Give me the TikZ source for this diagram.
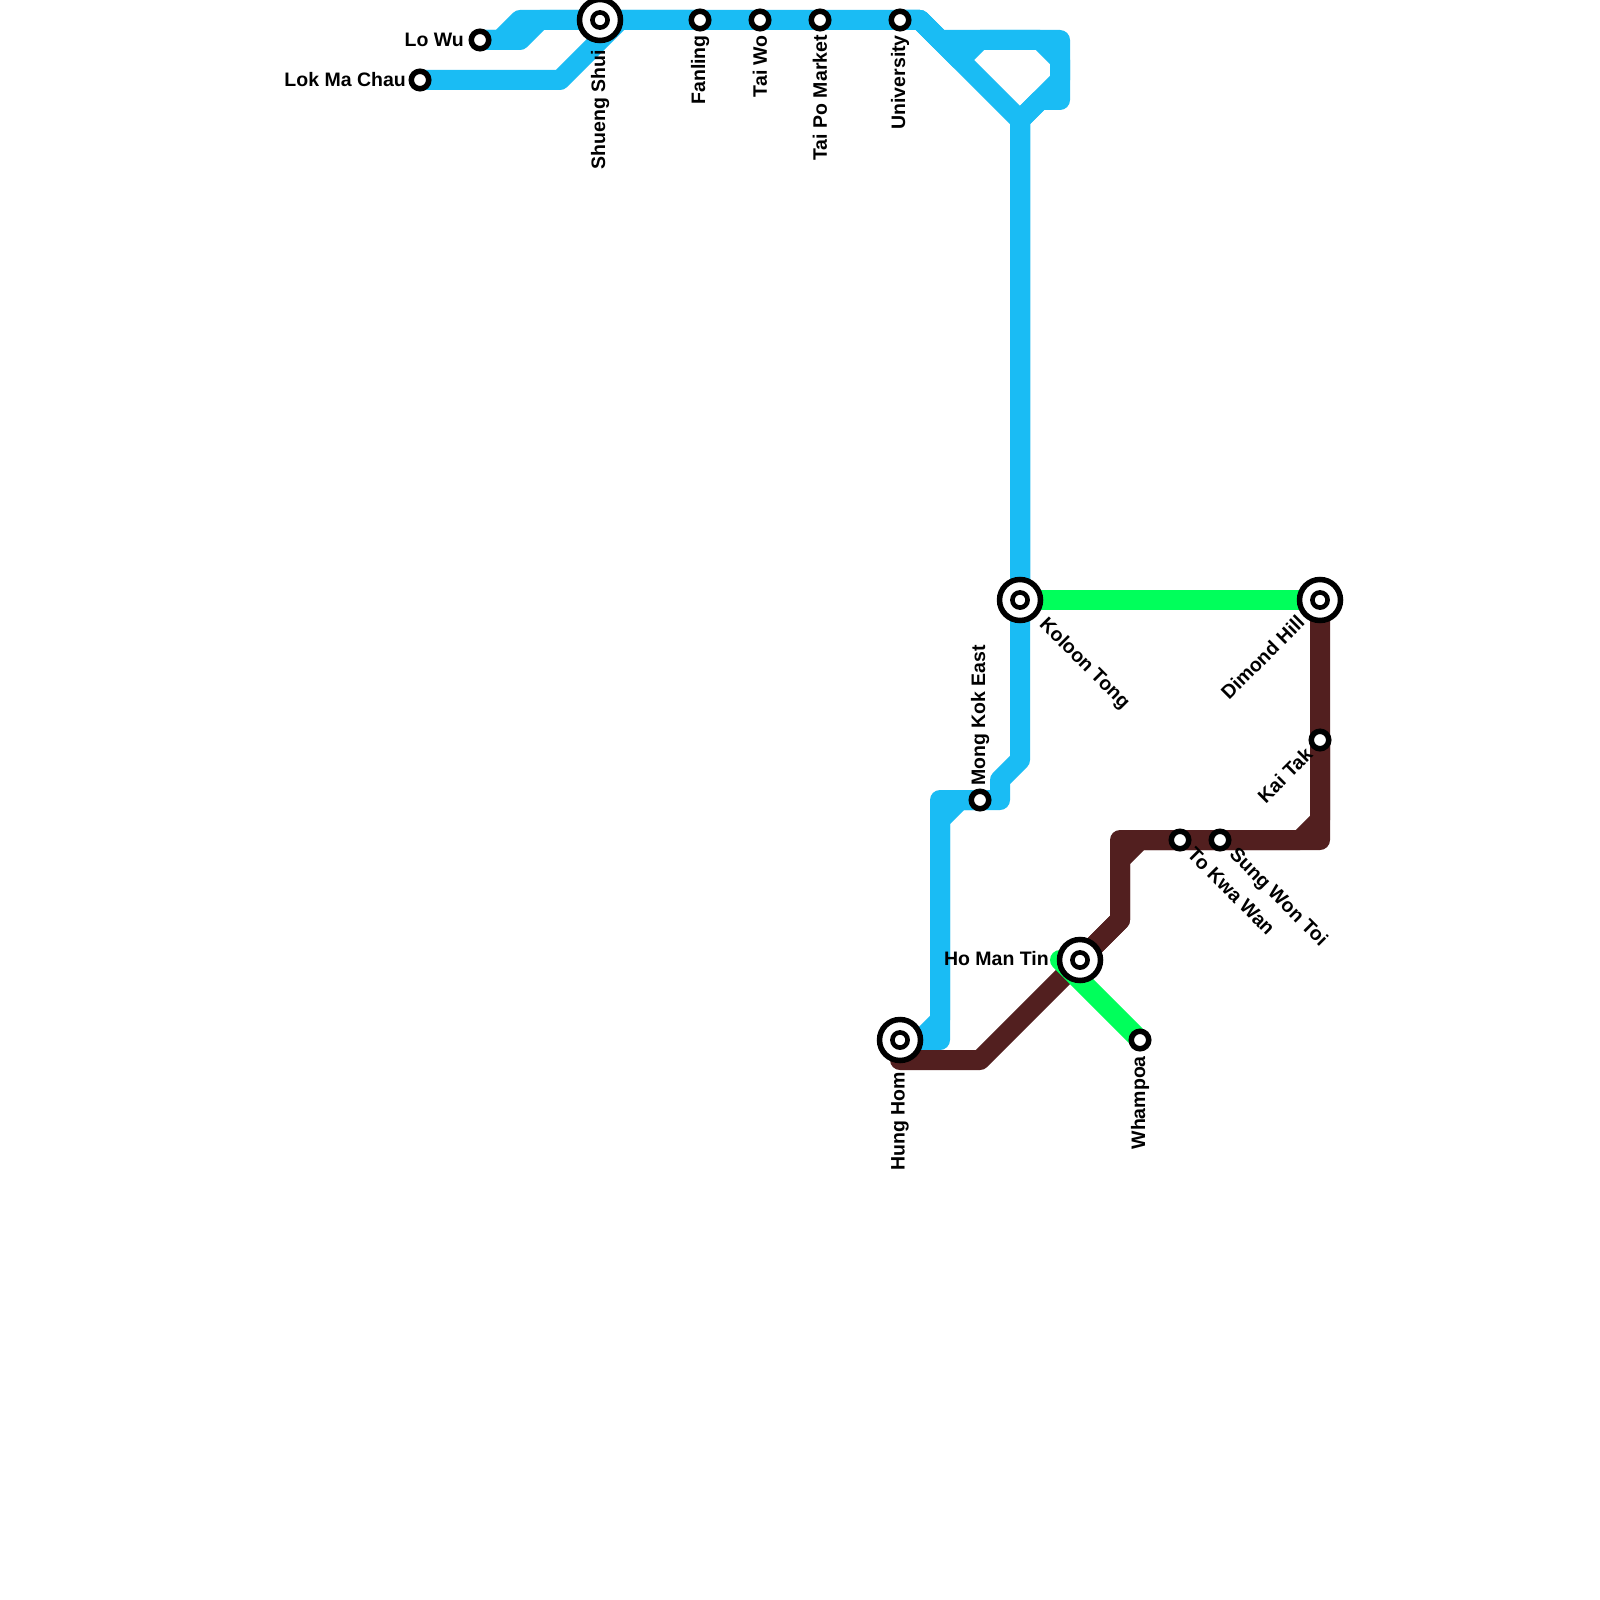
\documentclass[tikz,border=0pt]{standalone}
\usepackage{fontspec}
\setmainfont{Liberation Sans}
\definecolor{mblue}{HTML}{1ABCF4}
\definecolor{mbrown}{HTML}{521F1F}
\definecolor{mgreen}{HTML}{00FF5B}
\begin{document}
\begin{tikzpicture}[x=1pt,y=-1pt,
  track/.style={line width=20pt, line join=round, line cap=round},
  bluetrack/.style={track, draw=mblue},
  browntrack/.style={track, draw=mbrown},
  greentrack/.style={track, draw=mgreen},
  stn/.style={circle, draw=black, fill=white, line width=5.5pt, minimum size=17.5pt, inner sep=0pt},
  ich/.style={circle, draw=black, fill=white, line width=5.5pt, minimum size=41pt, inner sep=0pt,
    path picture={\draw[line width=4.6pt] (path picture bounding box.center) circle[radius=7.6pt];}},
  lbl/.style={font=\bfseries\fontsize{19.5}{20}\selectfont, inner sep=0pt, text=black}]
\fill[white] (0,0) rectangle (1600,1600);
\useasboundingbox (0,0) rectangle (1600,1600);

% station positions
\coordinate (lokmachau) at (420,80);
\coordinate (lowu) at (480,40);
\coordinate (shuengshui) at (600,20);
\coordinate (fanling) at (700,20);
\coordinate (taiwo) at (760,20);
\coordinate (taipo) at (820,20);
\coordinate (university) at (900,20);
\coordinate (kowloontong) at (1020,600);
\coordinate (dimondhill) at (1320,600);
\coordinate (mongkokeast) at (980,800);
\coordinate (hunghom) at (900,1040);
\coordinate (homantin) at (1080,960);
\coordinate (whampoa) at (1140,1040);
\coordinate (tokwawan) at (1180,840);
\coordinate (sungwontoi) at (1220,840);
\coordinate (kaitak) at (1320,740);
\coordinate (gstart) at (1060,960);

% blue line
\draw[bluetrack] (lowu) -- (500,40) -- (520,20) -- (shuengshui);
\draw[bluetrack] (lowu) -- (520,40) -- (540,20) -- (shuengshui);
\draw[bluetrack] (lokmachau) -- (560,80) -- (620,20) -- (fanling);
\draw[bluetrack] (shuengshui) -- (fanling) -- (taiwo) -- (taipo) -- (university) -- (920,20) -- (1020,120) -- (kowloontong);
\draw[bluetrack] (university) -- (920,20) -- (960,60) -- (980,40) -- (1040,40) -- (1060,60) -- (1060,80) -- (1020,120) -- (kowloontong);
\draw[bluetrack] (university) -- (920,20) -- (940,40) -- (1060,40) -- (1060,100) -- (1040,100) -- (1020,120) -- (kowloontong);
\draw[bluetrack] (kowloontong) -- (1020,760) -- (1000,780) -- (1000,800) -- (mongkokeast) -- (940,800) -- (940,1040) -- (hunghom);
\draw[bluetrack] (mongkokeast) -- (960,800) -- (940,820) -- (940,1020) -- (920,1040) -- (hunghom);

% brown line
\draw[browntrack] (hunghom) -- (900,1060) -- (980,1060) -- (homantin) -- (1120,920) -- (1120,840) -- (tokwawan) -- (sungwontoi) -- (1320,840) -- (kaitak) -- (dimondhill);
\draw[browntrack] (homantin) -- (1120,920) -- (1120,860) -- (1140,840) -- (tokwawan) -- (sungwontoi) -- (1300,840) -- (1320,820) -- (kaitak);

% green line
\draw[greentrack] (kowloontong) -- (dimondhill);
\draw[greentrack] (gstart) -- (whampoa);

% station markers
\node[stn] (lokmachau-m) at (lokmachau) {};
\node[stn] (lowu-m) at (lowu) {};
\node[ich] (shuengshui-m) at (shuengshui) {};
\node[stn] (fanling-m) at (fanling) {};
\node[stn] (taiwo-m) at (taiwo) {};
\node[stn] (taipo-m) at (taipo) {};
\node[stn] (university-m) at (university) {};
\node[ich] (kowloontong-m) at (kowloontong) {};
\node[ich] (dimondhill-m) at (dimondhill) {};
\node[stn] (mongkokeast-m) at (mongkokeast) {};
\node[ich] (hunghom-m) at (hunghom) {};
\node[ich] (homantin-m) at (homantin) {};
\node[stn] (whampoa-m) at (whampoa) {};
\node[stn] (tokwawan-m) at (tokwawan) {};
\node[stn] (sungwontoi-m) at (sungwontoi) {};
\node[stn] (kaitak-m) at (kaitak) {};

% labels
\node[lbl, anchor=east] (lowu-l) at (464,40) {Lo Wu};
\node[lbl, anchor=east] (lokmachau-l) at (406,80) {Lok Ma Chau};
\node[lbl, anchor=east] (homantin-l) at (1049,959) {Ho Man Tin};
\node[lbl, anchor=east, rotate=90] (shuengshui-l) at (600,50) {Shueng Shui};
\node[lbl, anchor=east, rotate=90] (fanling-l) at (700,35) {Fanling};
\node[lbl, anchor=east, rotate=90] (taiwo-l) at (760,35) {Tai Wo};
\node[lbl, anchor=east, rotate=90] (taipo-l) at (820,35) {Tai Po Market};
\node[lbl, anchor=east, rotate=90] (university-l) at (900,35) {University};
\node[lbl, anchor=east, rotate=90] (hunghom-l) at (900,1072) {Hung Hom};
\node[lbl, anchor=east, rotate=90] (whampoa-l) at (1140,1056) {Whampoa};
\node[lbl, anchor=west, rotate=90] (mongkokeast-l) at (980,786) {Mong Kok East};
\node[lbl, anchor=west, rotate=-45] (kowloontong-l) at (1042,622) {Koloon Tong};
\node[lbl, anchor=west, rotate=-45] (tokwawan-l) at (1191,851) {To Kwa Wan};
\node[lbl, anchor=west, rotate=-45] (sungwontoi-l) at (1232,852) {Sung Won Toi};
\node[lbl, anchor=east, rotate=45] (dimondhill-l) at (1301,619) {Dimond Hill};
\node[lbl, anchor=east, rotate=45] (kaitak-l) at (1309,751) {Kai Tak};
\end{tikzpicture}
\end{document}
